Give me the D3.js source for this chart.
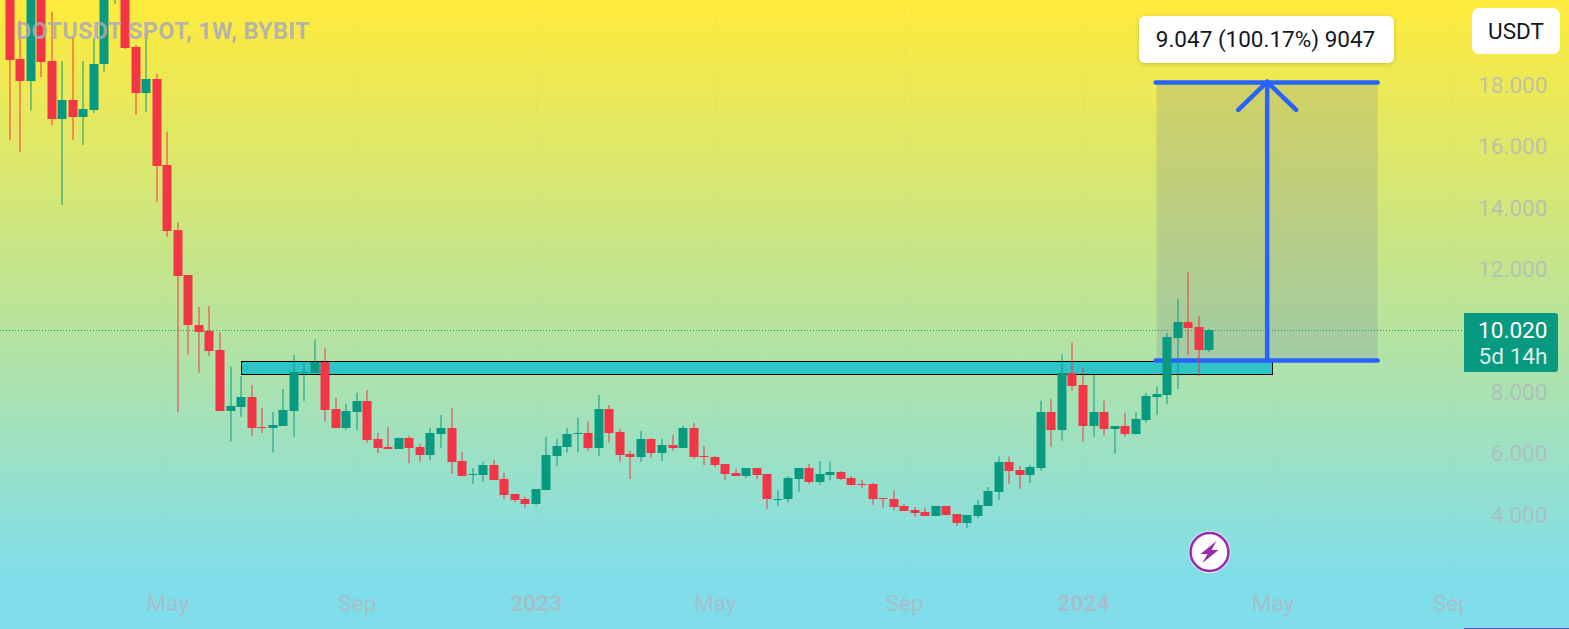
<!DOCTYPE html>
<html><head><meta charset="utf-8">
<script src="https://cdn.jsdelivr.net/npm/d3@7"></script>
<style>html,body{margin:0;padding:0;overflow:hidden;background:#fff}svg{display:block}text{font-family:Roboto,sans-serif}</style>
</head><body><svg id="c" width="1569" height="629"></svg>
<script>
const opens=[21.42,18.85,18.14,21.58,18.78,16.90,17.51,16.97,17.20,18.68,
21.10,21.10,19.24,17.75,18.20,15.40,13.28,11.82,10.19,9.99,
9.37,7.40,7.53,7.84,6.88,6.83,6.91,7.39,8.63,8.63,
8.99,7.45,6.83,7.36,7.72,6.48,6.22,6.15,6.51,6.22,
5.96,6.64,6.83,5.76,5.31,5.30,5.63,5.17,4.69,4.52,
4.36,4.83,5.92,6.22,6.65,6.68,6.18,7.45,6.70,5.99,
5.89,6.48,6.02,6.28,6.18,6.83,5.92,5.89,5.66,5.37,
5.27,5.53,5.34,4.51,4.52,5.17,5.53,5.08,5.31,5.41,
5.21,5.01,5.01,4.55,4.53,4.29,4.16,4.10,3.97,4.29,
4.03,3.74,3.97,4.29,4.75,5.73,5.47,5.30,5.54,7.35,
6.77,8.62,8.23,6.91,7.35,6.81,6.90,6.64,7.09,7.85,
7.91,9.76,10.29,10.12,9.37];
const closes=[18.82,18.14,21.26,18.76,16.90,17.51,16.97,17.22,18.69,21.42,
22.07,19.21,17.75,18.20,15.37,13.25,11.79,10.17,9.97,9.34,
7.40,7.55,7.84,6.83,6.85,6.93,7.42,8.65,8.66,8.99,
7.42,6.83,7.39,7.71,6.44,6.18,6.15,6.51,6.18,5.96,
6.67,6.83,5.74,5.27,5.34,5.63,5.14,4.65,4.49,4.36,
4.85,5.96,6.25,6.64,6.67,6.18,7.45,6.68,5.96,5.89,
6.48,6.02,6.28,6.18,6.83,5.89,5.90,5.63,5.34,5.27,
5.53,5.30,4.52,4.53,5.21,5.53,5.08,5.34,5.40,5.17,
4.98,4.98,4.52,4.53,4.26,4.13,4.07,3.97,4.29,4.00,
3.74,4.00,4.33,4.78,5.73,5.43,5.30,5.56,7.35,6.77,
8.62,8.20,6.91,7.35,6.80,6.90,6.64,7.13,7.88,7.94,
9.80,10.29,10.09,9.37,10.02];
const highs=[21.75,20.09,21.58,21.91,20.39,18.78,19.53,18.78,19.53,21.75,
22.40,21.26,19.30,19.70,18.36,16.48,13.52,11.82,10.77,10.81,
9.95,8.83,8.52,8.23,7.49,7.36,8.10,9.21,9.02,9.72,
9.43,7.82,7.61,7.98,8.07,6.67,6.87,6.51,6.57,6.31,
6.84,7.26,7.48,6.05,5.53,5.73,5.79,5.37,4.69,4.59,
4.85,6.55,6.48,6.83,7.17,7.04,7.91,7.58,6.81,6.09,
6.74,6.51,6.48,6.61,6.90,7.00,6.25,5.92,5.66,5.50,
5.53,5.53,5.34,4.81,5.27,5.53,5.66,5.76,5.73,5.43,
5.27,5.14,5.05,4.55,4.81,4.36,4.26,4.24,4.29,4.29,
4.03,4.00,4.49,4.91,5.90,5.90,5.60,5.63,7.72,7.78,
9.24,9.61,8.78,8.56,7.72,6.90,7.33,7.35,7.97,8.18,
9.93,11.03,11.91,10.48,10.06];
const lows=[16.21,15.82,17.17,18.26,16.70,14.10,16.21,16.05,17.09,18.44,
20.64,19.17,17.03,17.13,14.20,13.06,7.35,9.23,8.63,9.18,
7.39,6.39,7.20,6.57,6.67,6.03,6.90,6.55,7.71,8.63,
7.04,6.83,6.77,6.77,6.35,6.01,6.15,6.15,5.69,5.73,
5.79,6.18,5.34,5.27,5.01,5.08,5.14,4.52,4.42,4.23,
4.33,4.82,5.60,6.03,6.05,6.09,5.92,6.36,5.73,5.17,
5.74,5.86,5.76,6.09,6.18,5.82,5.63,5.56,5.14,5.27,
5.21,5.17,4.20,4.29,4.40,4.76,5.01,4.99,5.14,5.14,
4.96,4.88,4.33,4.24,4.16,4.13,3.94,3.97,3.97,3.99,
3.64,3.58,3.90,4.29,4.49,5.01,4.85,5.04,5.44,6.22,
6.42,8.05,6.39,6.55,6.58,6.01,6.55,6.62,7.01,7.26,
7.62,8.10,9.21,8.53,9.31];
const priceTicks=[4,6,8,12,14,16,18];
const timeTickWeeks=[15,33,50,67,85,102,120,137];
const timeTickLabels=["May","Sep","2023","May","Sep","2024","May","Sep"];
const lastPrice=10.02;
const zoneWeeks=[22,120], zonePrices=[9.0,8.58];
const boxWeeks=[109,130], boxPrices=[18.10,9.05], arrowWeek=119.5;
const arrowHead=[[116.75,17.19],[119.5,18.10],[122.25,17.19]];
const title="DOTUSDT SPOT, 1W, BYBIT";
const measureText="9.047 (100.17%) 9047";

const W=1569,H=629,axisX=1464;
const UP="#089981",DOWN="#f23645",BLUE="#2962ff";
const x=d3.scaleLinear().domain([0,114]).range([9.5,1209.3]);
const y=d3.scaleLinear().domain([4,18]).range([515,85]);
const svg=d3.select("#c");
const defs=svg.append("defs");
const g=defs.append("linearGradient").attr("id","bg").attr("x1",0).attr("x2",0).attr("y1",0).attr("y2",1);
g.append("stop").attr("offset","0%").attr("stop-color","#ffeb3b");
g.append("stop").attr("offset","92%").attr("stop-color","#80deea");
defs.append("clipPath").attr("id","pane").append("rect").attr("width",axisX).attr("height",H);
const f=defs.append("filter").attr("id","sh").attr("x","-10%").attr("y","-30%").attr("width","120%").attr("height","170%");
f.append("feDropShadow").attr("dx",0).attr("dy",1).attr("stdDeviation",2).attr("flood-color","#000").attr("flood-opacity",0.18);

svg.append("rect").attr("width",W).attr("height",H).attr("fill","url(#bg)");

// faint vertical grid
svg.append("g").selectAll("line").data(timeTickWeeks).join("line")
  .attr("x1",d=>Math.round(x(d))+.5).attr("x2",d=>Math.round(x(d))+.5).attr("y1",0).attr("y2",H)
  .attr("stroke","#787b86").attr("stroke-opacity",0.035);

// last price dotted line
svg.append("line").attr("x1",0).attr("x2",axisX).attr("y1",Math.round(y(lastPrice))+.5).attr("y2",Math.round(y(lastPrice))+.5)
  .attr("stroke",UP).attr("stroke-width",1).attr("stroke-dasharray","1 2");

// support zone
svg.append("rect").attr("x",Math.round(x(zoneWeeks[0]))+.5).attr("y",Math.round(y(zonePrices[0]))+.5)
  .attr("width",Math.round(x(zoneWeeks[1]))-Math.round(x(zoneWeeks[0])))
  .attr("height",Math.round(y(zonePrices[1]))-Math.round(y(zonePrices[0])))
  .attr("fill","#2fc4c6").attr("stroke","#000").attr("stroke-width",1);

// long position box
svg.append("rect").attr("x",x(boxWeeks[0])).attr("y",y(boxPrices[0]))
  .attr("width",x(boxWeeks[1])-x(boxWeeks[0])).attr("height",y(boxPrices[1])-y(boxPrices[0]))
  .attr("fill","#6f7b9a").attr("fill-opacity",0.22);
const blue=svg.append("g").attr("stroke",BLUE).attr("stroke-width",4.5).attr("stroke-linecap","round").attr("fill","none");
boxPrices.forEach(p=>blue.append("line").attr("x1",x(boxWeeks[0])-1).attr("x2",x(boxWeeks[1])).attr("y1",y(p)+.5).attr("y2",y(p)+.5));
blue.append("line").attr("x1",x(arrowWeek)).attr("x2",x(arrowWeek)).attr("y1",y(boxPrices[1])).attr("y2",y(boxPrices[0]));
blue.append("path").attr("d",d3.line().x(d=>x(d[0])).y(d=>y(d[1]))(arrowHead));

// candles
const cs=opens.map((o,i)=>({i,o,c:closes[i],h:highs[i],l:lows[i]}));
const cg=svg.append("g").selectAll("g").data(cs).join("g");
cg.append("rect").attr("x",d=>Math.round(x(d.i))-.5).attr("width",1)
  .attr("y",d=>y(d.h)).attr("height",d=>y(d.l)-y(d.h))
  .attr("fill",d=>d.c>=d.o?UP:DOWN);
cg.append("rect").attr("x",d=>Math.round(x(d.i))-4.5).attr("width",9)
  .attr("y",d=>Math.round(y(Math.max(d.o,d.c))))
  .attr("height",d=>Math.max(1,Math.round(y(Math.min(d.o,d.c)))-Math.round(y(Math.max(d.o,d.c)))))
  .attr("fill",d=>d.c>=d.o?UP:DOWN);

// axes
const AX="#b2b5be", FS=22.6;
const yAxis=svg.append("g").attr("transform","translate(1547.5,0)")
  .call(d3.axisLeft(y).tickValues(priceTicks).tickFormat(d3.format(".3f")).tickSize(0).tickPadding(0));
yAxis.select(".domain").remove();
yAxis.selectAll("text").attr("font-size",FS).attr("fill",AX).attr("fill-opacity",0.75).style("font-family","Roboto,sans-serif");

const xAxis=svg.append("g").attr("clip-path","url(#pane)").append("g").attr("transform","translate(0,595)")
  .call(d3.axisBottom(x).tickValues(timeTickWeeks).tickFormat((d,i)=>timeTickLabels[i]).tickSize(0).tickPadding(0));
xAxis.select(".domain").remove();
xAxis.selectAll("text").attr("font-size",FS).attr("fill",AX).attr("fill-opacity",0.75)
  .style("font-family","Roboto,sans-serif").attr("font-weight",(d,i)=>/^\d/.test(timeTickLabels[i])?700:400);

// title
svg.append("text").attr("x",16).attr("y",39).text(title).attr("font-size",23.6).attr("font-weight",700)
  .attr("fill","#a9abb8").attr("fill-opacity",0.85).attr("letter-spacing",0.25);

// measure label
svg.append("rect").attr("x",1139).attr("y",16).attr("width",255).attr("height",47).attr("rx",6)
  .attr("fill","#fff").attr("filter","url(#sh)");
svg.append("text").attr("x",1265.5).attr("y",47).attr("text-anchor","middle").attr("font-size",22.5).attr("fill","#131722").text(measureText);

// currency button
svg.append("rect").attr("x",1472).attr("y",8).attr("width",88).attr("height",46).attr("rx",7).attr("fill","#fff");
svg.append("text").attr("x",1516).attr("y",39).attr("text-anchor","middle").attr("font-size",22.5).attr("fill","#131722").text("USDT");

// last price tag
svg.append("path").attr("d","M1464 313H1555a3 3 0 0 1 3 3V369a3 3 0 0 1 -3 3H1464Z").attr("fill",UP);
svg.append("text").attr("x",1547.5).attr("y",338).attr("text-anchor","end").attr("font-size",FS).attr("fill","#fff").text(d3.format(".3f")(lastPrice));
svg.append("text").attr("x",1547.5).attr("y",364).attr("text-anchor","end").attr("font-size",FS).attr("fill","#fff").attr("fill-opacity",0.85).text("5d 14h");

// bottom line
svg.append("rect").attr("x",axisX).attr("y",628).attr("width",W-axisX).attr("height",1).attr("fill","#5e4fc0");

// lightning icon
const ic=svg.append("g").attr("transform","translate(1209.5,552)");
ic.append("circle").attr("r",21).attr("fill","#fff");
ic.append("circle").attr("r",19).attr("fill","none").attr("stroke","#9c27b0").attr("stroke-width",2.6);
ic.append("path").attr("d","M7 -11 L-9 2 L-2 2 L-7 11 L9 -2 L2 -2 Z").attr("fill","#9c27b0");
</script></body></html>
